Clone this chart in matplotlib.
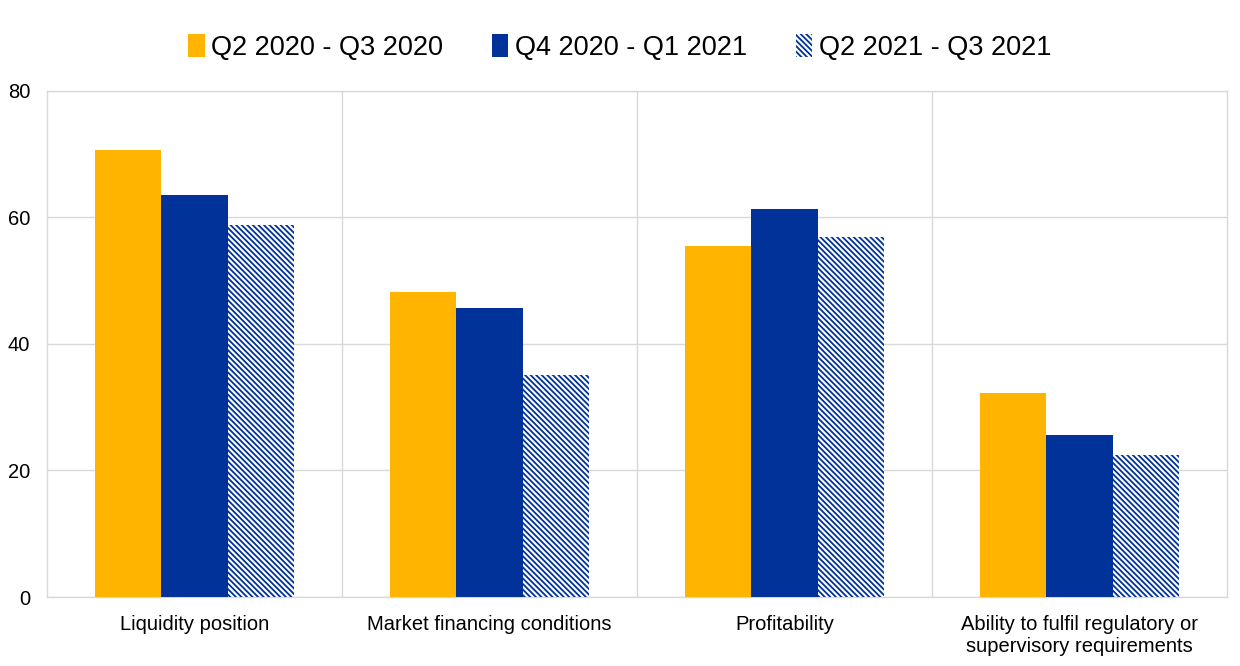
import numpy as np
import matplotlib
matplotlib.use("Agg")
from matplotlib import pyplot as plt

categories = ["Liquidity position", "Market financing conditions", "Profitability",
              "Ability to fulfil regulatory or\nsupervisory requirements"]
series_names = ["Q2 2020 - Q3 2020", "Q4 2020 - Q1 2021", "Q2 2021 - Q3 2021"]
q2_2020 = [70.7, 48.2, 55.5, 32.3]
q4_2020 = [63.6, 45.7, 61.3, 25.6]
q2_2021 = [58.8, 35.1, 56.9, 22.5]

plt.rcParams["font.family"] = ["Liberation Sans", "DejaVu Sans"]
plt.rcParams["hatch.linewidth"] = 1.3

fig = plt.figure(figsize=(12.4, 6.66), dpi=100)
ax = fig.add_axes([0.0379, 0.1036, 0.9516, 0.7598])

x = np.arange(len(categories))
w = 0.224
ax.bar(x - w, q2_2020, w, color="#FFB400", label=series_names[0], zorder=3)
ax.bar(x, q4_2020, w, color="#003299", label=series_names[1], zorder=3)
ax.bar(x + w, q2_2021, w, facecolor="white", edgecolor="#003299", hatch="\\" * 6,
       linewidth=0, label=series_names[2], zorder=3)

ax.set_xlim(-0.5, len(categories) - 0.5)
ax.set_ylim(0, 80)
ax.set_yticks([0, 20, 40, 60, 80])
ax.set_xticks(x)
ax.set_xticklabels(categories, fontsize=14.5)
ax.set_xticks(np.arange(0.5, len(categories) - 1), minor=True)
ax.tick_params(axis="y", labelsize=14.5, length=0, pad=12)
ax.tick_params(axis="x", which="both", length=0, pad=13)
ax.grid(axis="y", color="#d9d9d9", linewidth=1, zorder=0)
ax.grid(axis="x", which="minor", color="#d9d9d9", linewidth=1, zorder=0)
for s in ax.spines.values():
    s.set_color("#d9d9d9")
    s.set_linewidth(1)

fig.legend(loc="upper center", bbox_to_anchor=(0.5, 0.985), ncol=3, frameon=False,
           fontsize=19.5, handlelength=0.6, handleheight=0.9, handletextpad=0.25,
           columnspacing=1.8)

fig.savefig("out.png", dpi=100)
